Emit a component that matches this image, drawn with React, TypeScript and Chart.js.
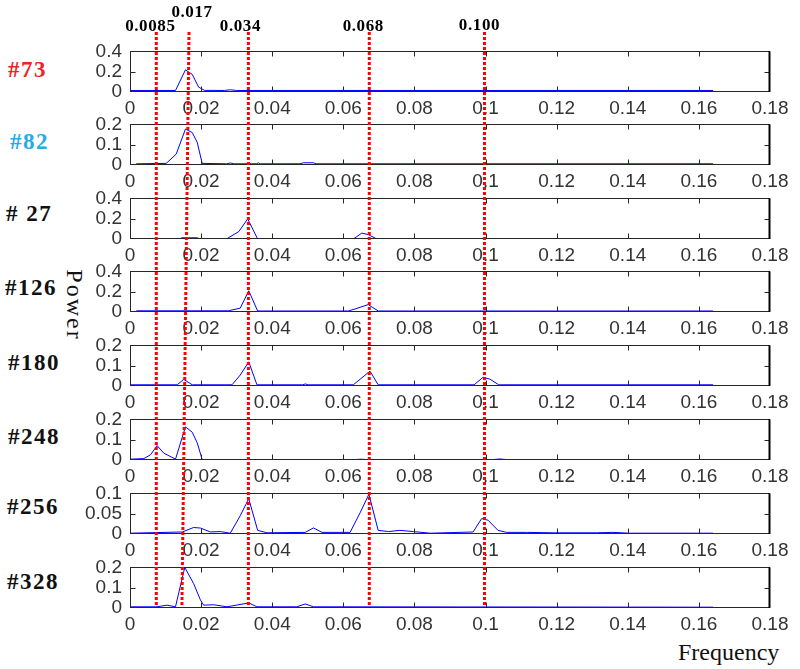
import React, { useEffect, useRef } from 'react';
import { Chart, registerables } from 'chart.js';

Chart.register(...registerables);

// ---------------- data ----------------
const xTickValues = [0, 0.02, 0.04, 0.06, 0.08, 0.1, 0.12, 0.14, 0.16, 0.18];
const xTickLabels = ['0', '0.02', '0.04', '0.06', '0.08', '0.1', '0.12', '0.14', '0.16', '0.18'];

const panelNames = ['#73', '#82', '# 27', '#126', '#180', '#248', '#256', '#328'];
const panelYMax = [0.4, 0.2, 0.4, 0.4, 0.2, 0.2, 0.1, 0.2];

const freq73 = [0, 0.0128, 0.0156, 0.0175, 0.0193, 0.021, 0.0265, 0.0282, 0.03, 0.164];
const power73 = [0.015, 0.015, 0.218, 0.174, 0.048, 0.016, 0.015, 0.022, 0.015, 0.015];

const freq82 = [0, 0.0016, 0.0018, 0.0102, 0.013, 0.0156, 0.0175, 0.0189, 0.0203, 0.0272, 0.0282, 0.0292, 0.033, 0.0336, 0.0342, 0.0355, 0.0361, 0.0367, 0.0478, 0.0488, 0.0515, 0.0525, 0.164];
const power82 = [0.002, 0.002, 0.006, 0.008, 0.054, 0.177, 0.16, 0.112, 0.008, 0.006, 0.01, 0.006, 0.006, 0.009, 0.006, 0.006, 0.01, 0.006, 0.006, 0.011, 0.011, 0.006, 0.006];

const freq27 = [0, 0.014, 0.0145, 0.019, 0.0195, 0.0273, 0.0306, 0.0331, 0.0359, 0.0628, 0.0652, 0.067, 0.0694, 0.164];
const power27 = [0, 0, 0.012, 0.012, 0, 0.004, 0.073, 0.198, 0, 0, 0.058, 0.044, 0, 0];

const freq126 = [0, 0.0016, 0.0019, 0.0277, 0.031, 0.0334, 0.0359, 0.0614, 0.0633, 0.067, 0.0698, 0.164];
const power126 = [0.004, 0.004, 0.012, 0.012, 0.038, 0.209, 0.01, 0.01, 0.03, 0.073, 0.01, 0.01];

const freq180 = [0, 0.0133, 0.0151, 0.0175, 0.0287, 0.031, 0.0334, 0.0357, 0.0485, 0.0493, 0.0501, 0.0628, 0.0647, 0.0675, 0.0698, 0.0968, 0.0993, 0.1012, 0.1037, 0.164];
const power180 = [0.006, 0.006, 0.033, 0.006, 0.006, 0.054, 0.119, 0.006, 0.006, 0.01, 0.006, 0.006, 0.033, 0.073, 0.006, 0.006, 0.043, 0.034, 0.006, 0.006];

const freq248 = [0, 0.0039, 0.0058, 0.0076, 0.0095, 0.0128, 0.0156, 0.0175, 0.0189, 0.0203, 0.063, 0.065, 0.067, 0.102, 0.104, 0.106, 0.164];
const power248 = [0.004, 0.007, 0.026, 0.071, 0.034, 0.004, 0.163, 0.137, 0.085, 0.002, 0.002, 0.004, 0.002, 0.002, 0.005, 0.002, 0.002];

const freq256 = [0, 0.0147, 0.0179, 0.0198, 0.0226, 0.0254, 0.0282, 0.031, 0.0334, 0.0359, 0.0385, 0.0493, 0.0516, 0.054, 0.0619, 0.0647, 0.0672, 0.0698, 0.0727, 0.0759, 0.0797, 0.0844, 0.0965, 0.0989, 0.1007, 0.1035, 0.1059, 0.1115, 0.119, 0.1312, 0.1358, 0.1405, 0.164];
const power256 = [0.002, 0.005, 0.016, 0.0147, 0.005, 0.006, 0.002, 0.045, 0.087, 0.009, 0.003, 0.004, 0.015, 0.004, 0.004, 0.052, 0.098, 0.009, 0.006, 0.009, 0.006, 0.002, 0.005, 0.038, 0.034, 0.009, 0.004, 0.004, 0.003, 0.003, 0.004, 0.002, 0.002];

const freq328 = [0, 0.0076, 0.0104, 0.0128, 0.0154, 0.0179, 0.0198, 0.0207, 0.0235, 0.0273, 0.0334, 0.0357, 0.0469, 0.0493, 0.0516, 0.164];
const power328 = [0.006, 0.006, 0.014, 0.006, 0.2, 0.12, 0.04, 0.014, 0.016, 0.006, 0.025, 0.006, 0.006, 0.02, 0.006, 0.004];

const panelFreqs = [freq73, freq82, freq27, freq126, freq180, freq248, freq256, freq328];
const panelPowers = [power73, power82, power27, power126, power180, power248, power256, power328];

// red dotted marker lines (label text, drawn position at top and bottom)
const markerLabels = ['0.0085', '0.017', '0.034', '0.068', '0.100'];
const markerFreqTop = [0.0074, 0.0166, 0.0333, 0.0673, 0.0997];
const markerFreqBottom = [0.0074, 0.0146, 0.0333, 0.0673, 0.0997];

// ---------------- layout / style ----------------
const W = 800;
const H = 669;
const PANEL_TOPS = [46, 119, 193, 266, 340, 414, 488, 562];
const PANEL_H = 46;
const PAD_TOP = 14;
const AXIS_H = 30;
const PLOT_LEFT = 130;
const PLOT_RIGHT_PAD = 30;
const MARKER_TOP = 32;
const MARKER_BOTTOM = 607;
const labelDx = [-6, 3, -8, -6, -5];
const labelY = [27, 13, 27, 27, 26];
const nameColors = ['#ee2424', '#25ace6', '#111', '#111', '#111', '#111', '#111', '#111'];
const nameLeft = [8, 10, 6, 5, 8, 8, 7, 7];
const nameCenterY = [70, 142, 214, 288, 363, 437, 507, 582];

const SANS = "'Liberation Sans', Arial, sans-serif";
const SERIF = "'Liberation Serif', 'Times New Roman', serif";

const fmt = (v: number) => String(Number(v.toFixed(4)));

const boxPlugin = {
  id: 'panelBox',
  afterDatasetsDraw(chart: any) {
    const { ctx, chartArea: a } = chart;
    const xs = chart.scales.x;
    const ys = chart.scales.y;
    const L = Math.round(a.left) + 0.5;
    const R = Math.round(a.right) - 0.5;
    const T = Math.round(a.top) + 0.5;
    const B = Math.round(a.bottom) - 0.5;
    ctx.save();
    ctx.strokeStyle = '#262626';
    ctx.lineWidth = 1;
    ctx.strokeRect(L, T, R - L, B - T);
    ctx.beginPath();
    xs.ticks.forEach((t: any) => {
      const px = Math.round(xs.getPixelForValue(t.value)) + 0.5;
      if (px <= L + 1 || px >= R - 1) return;
      ctx.moveTo(px, T);
      ctx.lineTo(px, T + 5);
      ctx.moveTo(px, B);
      ctx.lineTo(px, B - 5);
    });
    ys.ticks.forEach((t: any) => {
      const py = Math.round(ys.getPixelForValue(t.value)) + 0.5;
      if (py <= T + 1 || py >= B - 1) return;
      ctx.moveTo(L, py);
      ctx.lineTo(L + 5, py);
      ctx.moveTo(R, py);
      ctx.lineTo(R - 5, py);
    });
    ctx.stroke();
    ctx.strokeStyle = '#000';
    ctx.lineWidth = 2;
    ctx.beginPath();
    ctx.moveTo(Math.round(a.right) - 0.5, a.top);
    ctx.lineTo(Math.round(a.right) - 0.5, a.bottom);
    ctx.stroke();
    ctx.restore();
  },
};

function Panel({ index }: { index: number }) {
  const ref = useRef<HTMLCanvasElement | null>(null);
  useEffect(() => {
    if (!ref.current) return;
    const ymax = panelYMax[index];
    const yTicks = [0, ymax / 2, ymax];
    const pts = panelFreqs[index].map((f, i) => ({ x: f, y: panelPowers[index][i] }));
    const chart = new Chart(ref.current, {
      type: 'line',
      data: {
        datasets: [
          {
            data: pts,
            borderColor: '#0000ff',
            borderWidth: 1,
            pointRadius: 0,
            tension: 0,
            fill: false,
          },
        ],
      },
      options: {
        animation: false,
        responsive: false,
        maintainAspectRatio: false,
        devicePixelRatio: 1,
        events: [],
        layout: { padding: { top: PAD_TOP, right: PLOT_RIGHT_PAD, left: 0, bottom: 0 } },
        plugins: { legend: { display: false }, tooltip: { enabled: false }, title: { display: false } },
        scales: {
          x: {
            type: 'linear',
            min: 0,
            max: 0.18,
            afterFit: (s: any) => {
              s.height = AXIS_H;
            },
            afterBuildTicks: (s: any) => {
              s.ticks = xTickValues.map((v) => ({ value: v }));
            },
            ticks: {
              autoSkip: false,
              maxRotation: 0,
              padding: 5,
              color: '#333',
              font: { family: SANS, size: 19 },
              callback: (_v: any, i: number) => xTickLabels[i],
            },
            grid: { display: false, drawTicks: false },
            border: { display: false },
          },
          y: {
            type: 'linear',
            min: 0,
            max: ymax,
            afterFit: (s: any) => {
              s.width = PLOT_LEFT;
            },
            afterBuildTicks: (s: any) => {
              s.ticks = yTicks.map((v) => ({ value: v }));
            },
            ticks: {
              autoSkip: false,
              padding: 8,
              color: '#333',
              font: { family: SANS, size: 19 },
              callback: (v: any) => fmt(Number(v)),
            },
            grid: { display: false, drawTicks: false },
            border: { display: false },
          },
        },
      } as any,
      plugins: [boxPlugin],
    });
    return () => chart.destroy();
  }, [index]);
  const top = PANEL_TOPS[index] - PAD_TOP;
  const h = PAD_TOP + PANEL_H + AXIS_H;
  return (
    <canvas
      ref={ref}
      width={W}
      height={h}
      style={{ position: 'absolute', left: 0, top, width: W, height: h }}
    />
  );
}

const markerLabelPlugin = {
  id: 'markerLabels',
  afterDraw(chart: any) {
    const { ctx } = chart;
    const xs = chart.scales.x;
    ctx.save();
    ctx.fillStyle = '#000';
    ctx.font = `bold 17px ${SERIF}`;
    ctx.textAlign = 'center';
    ctx.textBaseline = 'middle';
    (ctx as any).letterSpacing = '0.6px';
    markerLabels.forEach((lab, i) => {
      ctx.fillText(lab, xs.getPixelForValue(markerFreqTop[i]) + labelDx[i], labelY[i]);
    });
    ctx.restore();
  },
};

function MarkerOverlay() {
  const ref = useRef<HTMLCanvasElement | null>(null);
  useEffect(() => {
    if (!ref.current) return;
    const datasets = markerLabels.map((_l, i) => ({
      data: [
        { x: markerFreqTop[i], y: 1 },
        { x: markerFreqBottom[i], y: 0 },
      ],
      borderColor: '#ff0000',
      borderWidth: 3,
      borderDash: [3, 2],
      pointRadius: 0,
      tension: 0,
      fill: false,
    }));
    const chart = new Chart(ref.current, {
      type: 'line',
      data: { datasets },
      options: {
        animation: false,
        responsive: false,
        maintainAspectRatio: false,
        devicePixelRatio: 1,
        events: [],
        layout: {
          padding: { left: PLOT_LEFT, right: PLOT_RIGHT_PAD, top: MARKER_TOP, bottom: H - MARKER_BOTTOM },
        },
        plugins: { legend: { display: false }, tooltip: { enabled: false } },
        scales: {
          x: { type: 'linear', min: 0, max: 0.18, display: false },
          y: { type: 'linear', min: 0, max: 1, display: false },
        },
      } as any,
      plugins: [markerLabelPlugin],
    });
    return () => chart.destroy();
  }, []);
  return (
    <canvas
      ref={ref}
      width={W}
      height={H}
      style={{ position: 'absolute', left: 0, top: 0, width: W, height: H, pointerEvents: 'none' }}
    />
  );
}

export default function App() {
  return (
    <div
      style={{
        position: 'absolute',
        left: 0,
        top: 0,
        width: W,
        height: H,
        background: '#fff',
        overflow: 'hidden',
      }}
    >
      {panelNames.map((name, i) => (
        <div
          key={'n' + i}
          style={{
            position: 'absolute',
            left: nameLeft[i],
            top: nameCenterY[i] - 12,
            height: 24,
            lineHeight: '24px',
            fontFamily: SERIF,
            fontWeight: 'bold',
            fontSize: 23,
            letterSpacing: '1.5px',
            color: nameColors[i],
            whiteSpace: 'pre',
          }}
        >
          {name}
        </div>
      ))}
      <div
        style={{
          position: 'absolute',
          left: 75,
          top: 305,
          transform: 'translate(-50%, -50%) rotate(90deg)',
          fontFamily: SERIF,
          fontSize: 24,
          letterSpacing: '2px',
          lineHeight: 1,
          whiteSpace: 'nowrap',
          color: '#111',
        }}
      >
        Power
      </div>
      <div
        style={{
          position: 'absolute',
          left: 678,
          top: 640,
          fontFamily: SERIF,
          fontSize: 24,
          lineHeight: '24px',
          whiteSpace: 'nowrap',
          color: '#111',
        }}
      >
        Frequency
      </div>
      {panelNames.map((_n, i) => (
        <Panel key={'p' + i} index={i} />
      ))}
      <MarkerOverlay />
    </div>
  );
}
